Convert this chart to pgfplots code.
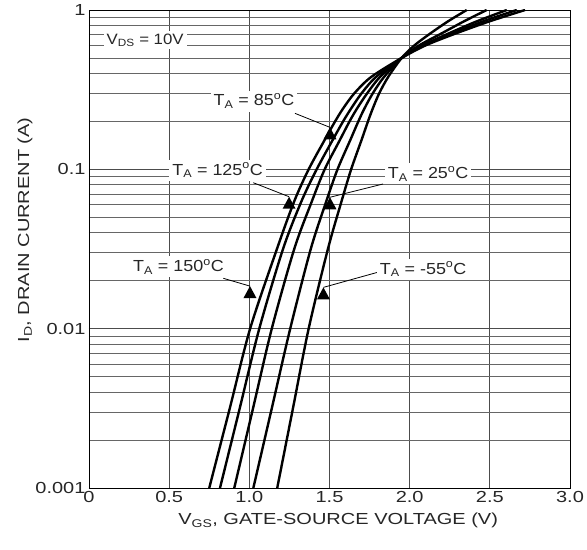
\documentclass[border=0pt]{standalone}
\usepackage{fontspec}
\setmainfont{Liberation Sans}[FakeStretch=1.25]
\newfontfamily\labfont{Liberation Sans}[FakeStretch=1.12]
\usepackage{pgfplots}
\pgfplotsset{compat=1.18}
\begin{document}
\begin{tikzpicture}
\begin{axis}[
  name=ax,
  scale only axis, width=481pt, height=478pt,
  xmin=0, xmax=3, ymode=log, ymin=0.001, ymax=1,
  xtick={0,0.5,1,1.5,2,2.5,3},
  xticklabels={0,0.5,1.0,1.5,2.0,2.5,3.0},
  ytick={0.001,0.01,0.1,1},
  yticklabels={0.001,0.01,0.1,1},
  /pgf/number format/assume math mode=true,
  tick label style={font=\fontsize{16}{18}\selectfont, black!85},
  major tick length=0pt, minor tick length=0pt,
  xmajorgrids, ymajorgrids, yminorgrids,
  major grid style={black!70, line width=0.8pt},
  minor grid style={black!60, line width=0.8pt},
  axis line style={black, line width=0.9pt},
  xlabel={V\textsubscript{GS}, GATE-SOURCE VOLTAGE (V)},
  ylabel={I\textsubscript{D}, DRAIN CURRENT (A)},
  label style={font=\fontsize{16}{18}\selectfont, black!85},
  xlabel style={at={(axis description cs:0.518,-0.068)}, anchor=center},
  ylabel style={at={(axis description cs:-0.133,0.54)}, anchor=center},
  curve/.style={black, line width=2.4pt, smooth, tension=0.5, no markers},
  clip=true,
]
% T_A = 150 C
\addplot[curve] coordinates {(0.75,0.001) (0.878,0.00316) (1.005,0.01) (1.172,0.0316) (1.28,0.063) (1.37,0.1) (1.47,0.153) (1.535,0.2) (1.585,0.241) (1.655,0.3) (1.76,0.38) (1.95,0.5) (2.1,0.6) (2.29,0.714) (2.5,0.85) (2.72,1)};
% T_A = 125 C
\addplot[curve] coordinates {(0.817,0.001) (0.94,0.00316) (1.062,0.01) (1.21,0.0316) (1.325,0.063) (1.42,0.1) (1.52,0.153) (1.585,0.2) (1.635,0.241) (1.7,0.3) (1.79,0.38) (1.95,0.5) (2.09,0.6) (2.27,0.714) (2.46,0.85) (2.668,1)};
% T_A = 85 C
\addplot[curve] coordinates {(0.906,0.001) (1.023,0.00316) (1.14,0.01) (1.28,0.0316) (1.39,0.063) (1.47,0.1) (1.565,0.153) (1.625,0.2) (1.672,0.241) (1.735,0.3) (1.815,0.38) (1.95,0.5) (2.08,0.6) (2.245,0.714) (2.42,0.85) (2.606,1)};
% T_A = 25 C
\addplot[curve] coordinates {(1.025,0.001) (1.14,0.00316) (1.255,0.01) (1.383,0.0316) (1.48,0.063) (1.55,0.1) (1.63,0.153) (1.68,0.2) (1.718,0.241) (1.77,0.3) (1.84,0.38) (1.95,0.5) (2.06,0.6) (2.2,0.714) (2.34,0.85) (2.48,1)};
% T_A = -55 C
\addplot[curve] coordinates {(1.174,0.001) (1.272,0.00316) (1.37,0.01) (1.49,0.0316) (1.575,0.063) (1.635,0.1) (1.7,0.153) (1.74,0.2) (1.77,0.241) (1.81,0.3) (1.866,0.38) (1.95,0.5) (2.03,0.6) (2.13,0.714) (2.24,0.85) (2.356,1)};

% annotations
\tikzset{lab/.style={fill=white, inner sep=3pt, font=\labfont\fontsize{16}{18}\selectfont, text=black!85}}
\node[lab, font=\labfont\fontsize{15}{17}\selectfont] at (axis cs:0.35,0.648) {V\textsubscript{DS} = 10V};
% arrows
\draw[line width=0.8pt] (axis cs:1.285,0.2246) -- (axis cs:1.503,0.1835);
\fill (axis cs:1.503,0.1835) -- ++(-6.5pt,-12pt) -- ++(13pt,0pt) -- cycle;
\draw[line width=0.8pt] (axis cs:1.025,0.0824) -- (axis cs:1.248,0.0673);
\fill (axis cs:1.248,0.0673) -- ++(-6.5pt,-12pt) -- ++(13pt,0pt) -- cycle;
\draw[line width=0.8pt] (axis cs:1.834,0.0809) -- (axis cs:1.503,0.0668);
\fill (axis cs:1.503,0.0668) -- ++(-6.5pt,-12pt) -- ++(13pt,0pt) -- cycle;
\draw[line width=0.8pt] (axis cs:0.838,0.0207) -- (axis cs:1.004,0.0185);
\fill (axis cs:1.004,0.0185) -- ++(-6.5pt,-12pt) -- ++(13pt,0pt) -- cycle;
\draw[line width=0.8pt] (axis cs:1.815,0.0228) -- (axis cs:1.462,0.01816);
\fill (axis cs:1.462,0.01816) -- ++(-6.5pt,-12pt) -- ++(13pt,0pt) -- cycle;
% labels
\node[lab] at (axis cs:1.029,0.268) {T\textsubscript{A} = 85\textsuperscript{o}C};
\node[lab] at (axis cs:0.802,0.0988) {T\textsubscript{A} = 125\textsuperscript{o}C};
\node[lab] at (axis cs:2.115,0.094) {T\textsubscript{A} = 25\textsuperscript{o}C};
\node[lab] at (axis cs:0.558,0.0245) {T\textsubscript{A} = 150\textsuperscript{o}C};
\node[lab] at (axis cs:2.084,0.0236) {T\textsubscript{A} = -55\textsuperscript{o}C};
\end{axis}
\pgfresetboundingbox
\path[use as bounding box] ([shift={(-89pt,-62pt)}]ax.south west) rectangle ([shift={(17pt,10pt)}]ax.north east);
\end{tikzpicture}
\end{document}
